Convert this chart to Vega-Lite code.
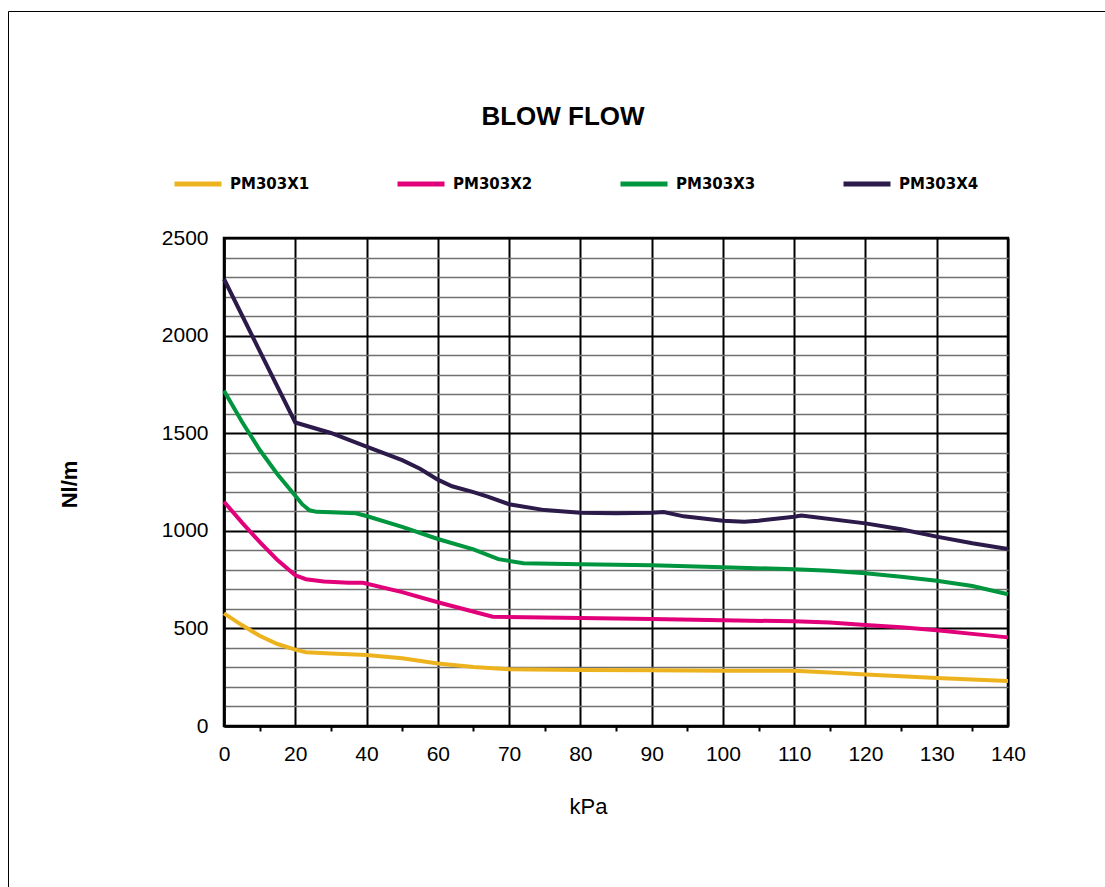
{
  "$schema": "https://vega.github.io/schema/vega-lite/v6.json",
  "width": 784,
  "height": 488,
  "autosize": {"type": "none"},
  "padding": {"left": 224, "top": 238, "right": 97, "bottom": 161},
  "background": "white",
  "config": {
    "font": "Liberation Sans",
    "view": {"stroke": "black", "strokeWidth": 2.5}
  },
  "data": {
    "values": [
      {"model": "PM303X1", "kPa": 0, "flow": 577},
      {"model": "PM303X1", "kPa": 5, "flow": 517},
      {"model": "PM303X1", "kPa": 10, "flow": 462},
      {"model": "PM303X1", "kPa": 15, "flow": 420},
      {"model": "PM303X1", "kPa": 20, "flow": 391},
      {"model": "PM303X1", "kPa": 23, "flow": 378},
      {"model": "PM303X1", "kPa": 30, "flow": 372},
      {"model": "PM303X1", "kPa": 40, "flow": 364},
      {"model": "PM303X1", "kPa": 50, "flow": 347},
      {"model": "PM303X1", "kPa": 60, "flow": 320},
      {"model": "PM303X1", "kPa": 65, "flow": 302},
      {"model": "PM303X1", "kPa": 70, "flow": 291},
      {"model": "PM303X1", "kPa": 80, "flow": 287},
      {"model": "PM303X1", "kPa": 90, "flow": 286},
      {"model": "PM303X1", "kPa": 100, "flow": 283},
      {"model": "PM303X1", "kPa": 110, "flow": 283},
      {"model": "PM303X1", "kPa": 115, "flow": 274},
      {"model": "PM303X1", "kPa": 120, "flow": 264},
      {"model": "PM303X1", "kPa": 125, "flow": 255},
      {"model": "PM303X1", "kPa": 130, "flow": 246},
      {"model": "PM303X1", "kPa": 135, "flow": 238},
      {"model": "PM303X1", "kPa": 140, "flow": 231},
      {"model": "PM303X2", "kPa": 0, "flow": 1149},
      {"model": "PM303X2", "kPa": 5, "flow": 1043},
      {"model": "PM303X2", "kPa": 10, "flow": 943},
      {"model": "PM303X2", "kPa": 15, "flow": 850},
      {"model": "PM303X2", "kPa": 20, "flow": 772},
      {"model": "PM303X2", "kPa": 23, "flow": 752},
      {"model": "PM303X2", "kPa": 28, "flow": 740},
      {"model": "PM303X2", "kPa": 35, "flow": 734},
      {"model": "PM303X2", "kPa": 39, "flow": 734},
      {"model": "PM303X2", "kPa": 50, "flow": 686},
      {"model": "PM303X2", "kPa": 60, "flow": 634},
      {"model": "PM303X2", "kPa": 67.7, "flow": 560},
      {"model": "PM303X2", "kPa": 80, "flow": 553},
      {"model": "PM303X2", "kPa": 90, "flow": 548},
      {"model": "PM303X2", "kPa": 100, "flow": 542},
      {"model": "PM303X2", "kPa": 110, "flow": 536},
      {"model": "PM303X2", "kPa": 115, "flow": 530},
      {"model": "PM303X2", "kPa": 120, "flow": 517},
      {"model": "PM303X2", "kPa": 125, "flow": 506},
      {"model": "PM303X2", "kPa": 130, "flow": 490},
      {"model": "PM303X2", "kPa": 135, "flow": 472},
      {"model": "PM303X2", "kPa": 140, "flow": 454},
      {"model": "PM303X3", "kPa": 0, "flow": 1718},
      {"model": "PM303X3", "kPa": 5, "flow": 1560},
      {"model": "PM303X3", "kPa": 10, "flow": 1415},
      {"model": "PM303X3", "kPa": 15, "flow": 1290},
      {"model": "PM303X3", "kPa": 20, "flow": 1180},
      {"model": "PM303X3", "kPa": 22, "flow": 1135},
      {"model": "PM303X3", "kPa": 24, "flow": 1105},
      {"model": "PM303X3", "kPa": 26, "flow": 1097},
      {"model": "PM303X3", "kPa": 30, "flow": 1095},
      {"model": "PM303X3", "kPa": 37, "flow": 1090},
      {"model": "PM303X3", "kPa": 40, "flow": 1076},
      {"model": "PM303X3", "kPa": 50, "flow": 1020},
      {"model": "PM303X3", "kPa": 60, "flow": 958},
      {"model": "PM303X3", "kPa": 65, "flow": 905},
      {"model": "PM303X3", "kPa": 68.5, "flow": 855},
      {"model": "PM303X3", "kPa": 72, "flow": 834},
      {"model": "PM303X3", "kPa": 80, "flow": 828},
      {"model": "PM303X3", "kPa": 90, "flow": 823},
      {"model": "PM303X3", "kPa": 100, "flow": 813},
      {"model": "PM303X3", "kPa": 110, "flow": 803},
      {"model": "PM303X3", "kPa": 115, "flow": 795},
      {"model": "PM303X3", "kPa": 120, "flow": 782},
      {"model": "PM303X3", "kPa": 125, "flow": 765},
      {"model": "PM303X3", "kPa": 130, "flow": 744},
      {"model": "PM303X3", "kPa": 135, "flow": 717},
      {"model": "PM303X3", "kPa": 140, "flow": 675},
      {"model": "PM303X4", "kPa": 0, "flow": 2290},
      {"model": "PM303X4", "kPa": 10, "flow": 1922},
      {"model": "PM303X4", "kPa": 20, "flow": 1555},
      {"model": "PM303X4", "kPa": 30, "flow": 1501},
      {"model": "PM303X4", "kPa": 40, "flow": 1431},
      {"model": "PM303X4", "kPa": 50, "flow": 1362},
      {"model": "PM303X4", "kPa": 55, "flow": 1318},
      {"model": "PM303X4", "kPa": 60, "flow": 1262},
      {"model": "PM303X4", "kPa": 62, "flow": 1228},
      {"model": "PM303X4", "kPa": 65, "flow": 1198},
      {"model": "PM303X4", "kPa": 67, "flow": 1175},
      {"model": "PM303X4", "kPa": 70, "flow": 1136},
      {"model": "PM303X4", "kPa": 75, "flow": 1106},
      {"model": "PM303X4", "kPa": 80, "flow": 1093},
      {"model": "PM303X4", "kPa": 85, "flow": 1090},
      {"model": "PM303X4", "kPa": 90, "flow": 1092},
      {"model": "PM303X4", "kPa": 91.7, "flow": 1096},
      {"model": "PM303X4", "kPa": 94.5, "flow": 1074},
      {"model": "PM303X4", "kPa": 100, "flow": 1052},
      {"model": "PM303X4", "kPa": 103, "flow": 1047},
      {"model": "PM303X4", "kPa": 105, "flow": 1052},
      {"model": "PM303X4", "kPa": 110, "flow": 1072},
      {"model": "PM303X4", "kPa": 111, "flow": 1078},
      {"model": "PM303X4", "kPa": 120, "flow": 1038},
      {"model": "PM303X4", "kPa": 125, "flow": 1008},
      {"model": "PM303X4", "kPa": 130, "flow": 970},
      {"model": "PM303X4", "kPa": 135, "flow": 936},
      {"model": "PM303X4", "kPa": 140, "flow": 907}
    ]
  },
  "layer": [
    {
      "mark": {"type": "line", "strokeWidth": 4},
      "encoding": {
        "x": {
          "field": "kPa",
          "type": "quantitative",
          "scale": {"domain": [0, 60, 140], "range": [0, 213.8, 784], "nice": false, "zero": false},
          "axis": {
            "values": [0, 10, 20, 30, 40, 50, 60, 65, 70, 75, 80, 85, 90, 95, 100, 105, 110, 115, 120, 125, 130, 135, 140],
            "format": "d",
            "labelExpr": "(datum.value <= 60 ? datum.value % 20 === 0 : datum.value % 10 === 0) ? datum.label : ''",
            "labelOverlap": false,
            "labelFlush": false,
            "labelBound": false,
            "labelFontSize": 21,
            "labelColor": "black",
            "labelPadding": 12,
            "grid": true,
            "gridColor": "black",
            "gridWidth": 2,
            "gridOpacity": {"condition": {"test": "datum.value <= 60 ? datum.value % 20 === 0 : datum.value % 10 === 0", "value": 1}, "value": 0},
            "ticks": true,
            "tickSize": 5,
            "tickWidth": 2,
            "tickColor": "black",
            "tickOpacity": {"condition": {"test": "datum.value <= 60 ? datum.value % 20 === 0 : datum.value % 10 === 0", "value": 0}, "value": 1},
            "domain": true,
            "domainColor": "black",
            "domainWidth": 2.5,
            "title": "kPa",
            "titleFontSize": 22,
            "titleFontWeight": "normal",
            "titleColor": "black",
            "titleX": 364,
            "titleY": 70
          }
        },
        "y": {
          "field": "flow",
          "type": "quantitative",
          "scale": {"domain": [0, 2500], "nice": false},
          "axis": {
            "values": [0, 100, 200, 300, 400, 500, 600, 700, 800, 900, 1000, 1100, 1200, 1300, 1400, 1500, 1600, 1700, 1800, 1900, 2000, 2100, 2200, 2300, 2400, 2500],
            "format": "d",
            "labelExpr": "datum.value % 500 === 0 ? datum.label : ''",
            "labelOverlap": false,
            "labelFlush": false,
            "labelBound": false,
            "labelFontSize": 21,
            "labelColor": "black",
            "labelPadding": 16,
            "grid": true,
            "gridColor": {"condition": {"test": "datum.value % 500 === 0", "value": "black"}, "value": "#707070"},
            "gridWidth": {"condition": {"test": "datum.value % 500 === 0", "value": 2}, "value": 1.6},
            "ticks": false,
            "domain": true,
            "domainColor": "black",
            "domainWidth": 2.5,
            "title": "Nl/m",
            "titleFontSize": 22,
            "titleFontWeight": "bold",
            "titleColor": "black",
            "titleX": -143,
            "titleY": 246
          }
        },
        "color": {
          "field": "model",
          "type": "nominal",
          "scale": {
            "domain": ["PM303X1", "PM303X2", "PM303X3", "PM303X4"],
            "range": ["#EDB31E", "#E2007A", "#00963F", "#2B1A4A"]
          },
          "legend": {
            "orient": "none",
            "legendX": -52,
            "legendY": -134,
            "direction": "horizontal",
            "columns": 4,
            "gridAlign": "all",
            "columnPadding": 77,
            "title": "BLOW FLOW",
            "titleFont": "Liberation Sans",
            "titleFontSize": 26,
            "titleFontWeight": "bold",
            "titleColor": "black",
            "titleAnchor": "middle",
            "titleAlign": "center",
            "titlePadding": 28,
            "symbolType": "stroke",
            "symbolSize": 2209,
            "symbolStrokeWidth": 5,
            "labelFont": "DejaVu Sans",
            "labelFontSize": 15,
            "labelFontWeight": "bold",
            "labelColor": "black",
            "labelOffset": 6,
            "labelLimit": 300,
            "encode": {"title": {"update": {"dx": {"value": -12}}}}
          }
        }
      }
    },
    {
      "mark": {"type": "point", "opacity": 0},
      "encoding": {
        "shape": {
          "datum": "frame",
          "legend": {
            "orient": "none",
            "legendX": -216,
            "legendY": -227,
            "padding": 570,
            "strokeColor": "black",
            "title": null,
            "labelOpacity": 0,
            "symbolOpacity": 0,
            "encode": {"legend": {"update": {"strokeWidth": {"value": 2}}}}
          }
        }
      }
    }
  ]
}
